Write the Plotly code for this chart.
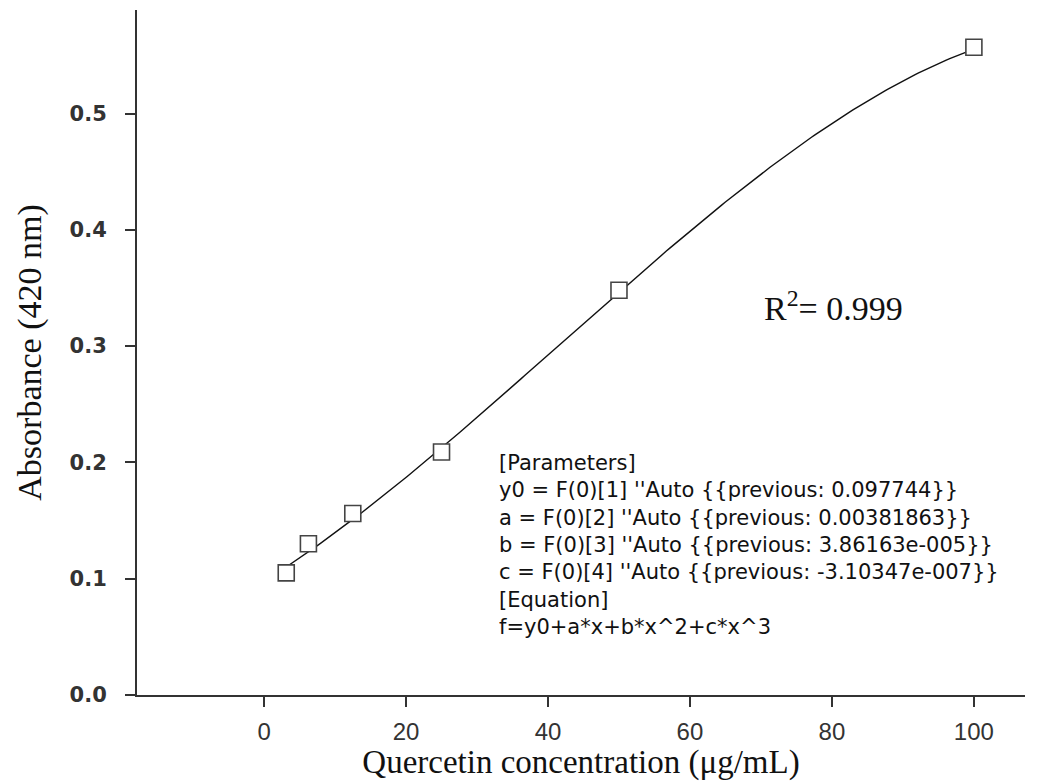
import numpy as np
import plotly.graph_objects as go

# Data points
conc = [3.125, 6.25, 12.5, 25, 50, 100]
absorb = [0.105, 0.130, 0.156, 0.209, 0.348, 0.557]

# Fitted cubic parameters shown on the chart
y0 = 0.097744
a = 0.00381863
b = 3.86163e-005
c = -3.10347e-007

x_fit = np.linspace(min(conc), max(conc), 200)
y_fit = y0 + a * x_fit + b * x_fit**2 + c * x_fit**3

x_ticks = [0, 20, 40, 60, 80, 100]
y_ticks = [0.0, 0.1, 0.2, 0.3, 0.4, 0.5]

param_lines = [
    "[Parameters]",
    "y0 = F(0)[1] ''Auto {{previous: 0.097744}}",
    "a = F(0)[2] ''Auto {{previous: 0.00381863}}",
    "b = F(0)[3] ''Auto {{previous: 3.86163e-005}}",
    "c = F(0)[4] ''Auto {{previous: -3.10347e-007}}",
    "[Equation]",
    "f=y0+a*x+b*x^2+c*x^3",
]
r2_text = "R<sup>2</sup>= 0.999"

# page offset of the figure (browser body margin)
OFF = 8
PL, PR, PT, PB = 137, 1025, 10, 695  # plot area in page pixels
W, H = 1044 - OFF, 781 - OFF


def dom_x(px):
    return (px - PL) / (PR - PL)


def dom_y(py):
    return (PB - py) / (PB - PT)


fig = go.Figure()
fig.add_trace(go.Scatter(x=x_fit, y=y_fit, mode="lines",
                         line=dict(color="#111111", width=1.4), showlegend=False))
fig.add_trace(go.Scatter(x=conc, y=absorb, mode="markers",
                         marker=dict(symbol="square", size=16, color="white",
                                     line=dict(color="#444444", width=1.6)),
                         showlegend=False))

fig.add_annotation(text="<br>".join(param_lines), showarrow=False, xref="x domain", yref="y domain",
                   x=dom_x(497), y=dom_y(449), xanchor="left", yanchor="top", align="left",
                   font=dict(family="DejaVu Sans", size=21, color="#111111"))

fig.add_annotation(text=r2_text, showarrow=False, xref="x domain", yref="y domain",
                   x=dom_x(762), y=dom_y(306), xanchor="left", yanchor="middle",
                   font=dict(family="Liberation Serif, Times New Roman", size=34, color="#111111"))

fig.update_layout(
    width=W, height=H,
    margin=dict(l=PL - OFF, r=W - (PR - OFF), t=PT - OFF, b=H - (PB - OFF)),
    paper_bgcolor="white", plot_bgcolor="white",
    xaxis=dict(range=[-17.9, 107.2], tickvals=x_ticks, showgrid=False, zeroline=False,
               showline=True, linecolor="#333333", linewidth=2,
               ticks="outside", ticklen=10, tickwidth=2, tickcolor="#333333",
               ticklabelstandoff=4,
               tickfont=dict(family="Liberation Sans, Arial", size=24, color="#333333"),
               title=dict(text="Quercetin concentration (μg/mL)", standoff=2,
                          font=dict(family="Liberation Serif, Times New Roman", size=33, color="#111111"))),
    yaxis=dict(range=[0, 0.589], tickvals=y_ticks, tickformat=".1f", showgrid=False, zeroline=False,
               showline=True, linecolor="#333333", linewidth=2,
               ticks="outside", ticklen=10, tickwidth=2, tickcolor="#333333",
               ticklabelstandoff=14,
               tickfont=dict(family="DejaVu Sans", size=21, color="#333333", weight="bold"),
               title=dict(text="Absorbance (420 nm)", standoff=18,
                          font=dict(family="Liberation Serif, Times New Roman", size=34, color="#111111"))),
)

fig.write_html("out.html")
